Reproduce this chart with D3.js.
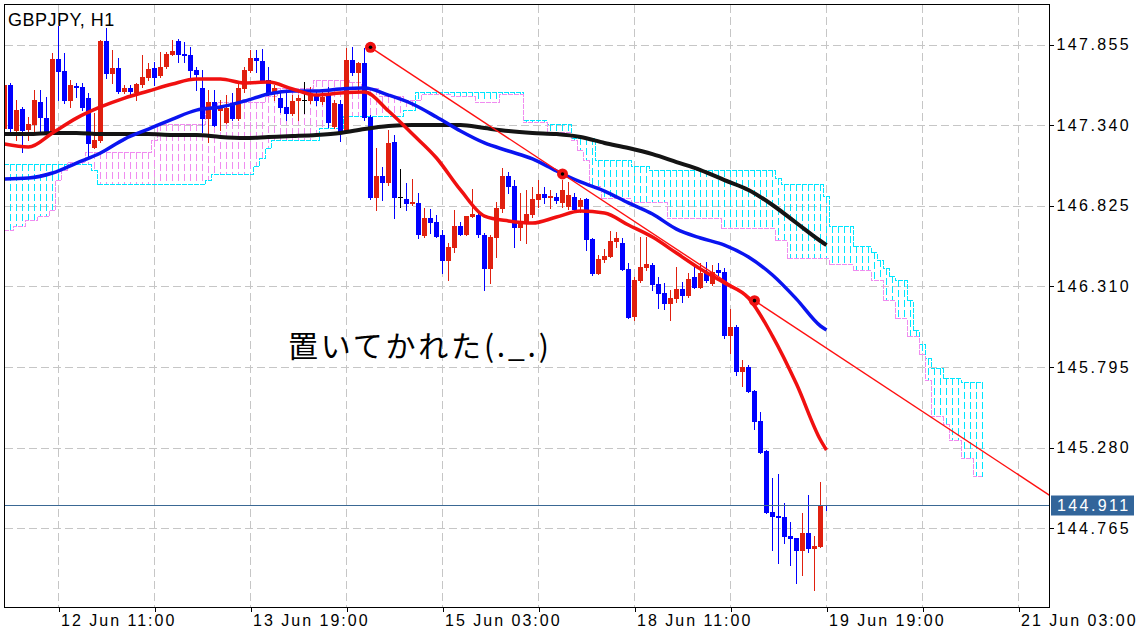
<!DOCTYPE html>
<html><head><meta charset="utf-8">
<script src="https://cdn.jsdelivr.net/npm/d3@7/dist/d3.min.js"></script>
<style>
html,body{margin:0;padding:0;background:#fff;}
svg{display:block;font-family:"Liberation Sans",Arial,sans-serif;}
</style></head><body>
<svg id="chart" width="1136" height="640"></svg>
<script>
// ---------- DATA ----------
const symbolTitle = "GBPJPY, H1";
const annotationText = "置いてかれた(._.)";
const yTicks = [144.765, 145.280, 145.795, 146.310, 146.825, 147.340, 147.855];
const currentPrice = 144.911;
// bar index 0 = 12 Jun 02:00, one bar per hour (H1)
const timeTickBars = [9, 25, 41, 57, 73, 89, 105, 121, 137, 153, 169];
const timeLabelBars = [9, 41, 73, 105, 137, 169];
const timeLabels = ["12 Jun 11:00", "13 Jun 19:00", "15 Jun 03:00", "18 Jun 11:00", "19 Jun 19:00", "21 Jun 03:00"];

const opens = [147.321,147.596,147.309,147.443,147.315,147.347,147.488,147.385,147.296,147.762,
147.686,147.500,147.590,147.583,147.513,147.200,147.245,147.877,147.673,147.705,
147.558,147.577,147.551,147.603,147.647,147.705,147.660,147.718,147.794,147.877,
147.794,147.788,147.692,147.577,147.385,147.488,147.436,147.360,147.481,147.385,
147.577,147.692,147.769,147.750,147.628,147.551,147.513,147.456,147.417,147.500,
147.500,147.500,147.532,147.494,147.532,147.334,147.475,147.302,147.756,147.679,
147.737,147.392,146.881,147.015,146.977,147.232,146.881,146.868,146.843,146.843,
146.638,146.747,146.721,146.638,146.478,146.561,146.696,146.644,146.759,146.766,
146.638,146.427,146.625,146.811,147.015,146.951,146.689,146.715,146.772,146.868,
146.900,146.881,146.881,146.849,146.823,146.881,146.823,146.868,146.613,146.395,
146.485,146.504,146.600,146.587,146.421,146.121,146.351,146.434,146.446,146.325,
146.268,146.204,146.236,146.293,146.255,146.370,146.306,146.395,146.332,146.415,
146.402,145.999,146.050,145.770,145.795,145.642,145.450,145.258,144.869,144.843,
144.837,144.716,144.703,144.626,144.735,144.639,144.652,144.914];
const highs = [147.615,147.609,147.500,147.456,147.392,147.564,147.564,147.520,147.801,147.973,
147.801,147.628,147.609,147.609,147.545,147.417,147.884,147.960,147.820,147.769,
147.596,147.596,147.609,147.788,147.737,147.743,147.807,147.807,147.884,147.890,
147.871,147.839,147.711,147.692,147.564,147.564,147.500,147.532,147.545,147.609,
147.711,147.820,147.820,147.826,147.711,147.596,147.551,147.545,147.532,147.532,
147.615,147.583,147.564,147.551,147.583,147.500,147.500,147.833,147.839,147.743,
147.833,147.404,147.194,147.072,147.309,147.277,147.060,146.970,146.996,146.906,
146.811,146.804,146.766,146.670,146.587,146.798,146.721,146.759,146.932,146.785,
146.651,146.638,146.849,147.066,147.040,146.989,146.906,146.926,146.945,146.989,
146.945,146.926,146.906,146.989,146.977,146.906,146.875,146.875,146.619,146.510,
146.549,146.664,146.657,146.619,146.459,146.370,146.625,146.625,146.459,146.370,
146.332,146.287,146.434,146.338,146.395,146.434,146.459,146.466,146.446,146.459,
146.427,146.166,146.063,145.840,145.808,145.648,145.508,145.265,145.086,145.111,
144.927,144.805,144.703,144.863,144.978,144.716,145.060,144.915];
const lows = [147.309,147.296,147.245,147.168,147.245,147.296,147.296,147.290,147.290,147.500,
147.481,147.456,147.520,147.436,147.136,147.194,147.232,147.641,147.609,147.545,
147.545,147.532,147.500,147.583,147.628,147.596,147.647,147.705,147.788,147.743,
147.743,147.647,147.564,147.296,147.232,147.334,147.309,147.353,147.373,147.373,
147.551,147.679,147.679,147.622,147.532,147.500,147.424,147.373,147.404,147.373,
147.417,147.481,147.468,147.475,147.328,147.321,147.238,147.290,147.660,147.551,
147.373,146.868,146.798,146.862,146.958,146.747,146.817,146.798,146.830,146.619,
146.625,146.651,146.625,146.395,146.351,146.529,146.638,146.638,146.753,146.625,
146.287,146.332,146.498,146.785,146.906,146.561,146.606,146.587,146.753,146.817,
146.843,146.811,146.843,146.817,146.804,146.785,146.785,146.542,146.383,146.389,
146.466,146.498,146.561,146.415,146.108,146.095,146.338,146.415,146.287,146.172,
146.166,146.095,146.210,146.210,146.242,146.300,146.300,146.338,146.319,146.383,
145.980,145.885,145.744,145.674,145.636,145.399,145.246,144.863,144.626,144.543,
144.671,144.531,144.416,144.467,144.613,144.371,144.645,144.880];
const closes = [147.596,147.321,147.436,147.309,147.347,147.500,147.392,147.296,147.762,147.686,
147.500,147.596,147.583,147.456,147.226,147.245,147.877,147.673,147.705,147.558,
147.577,147.558,147.603,147.647,147.698,147.647,147.711,147.794,147.813,147.794,
147.788,147.692,147.666,147.385,147.488,147.341,147.456,147.449,147.385,147.577,
147.692,147.769,147.756,147.628,147.551,147.577,147.456,147.417,147.494,147.513,
147.500,147.532,147.500,147.520,147.360,147.481,147.302,147.756,147.679,147.737,
147.392,146.881,147.015,146.977,147.226,146.881,146.881,146.843,146.849,146.644,
146.747,146.721,146.632,146.478,146.561,146.696,146.644,146.759,146.772,146.644,
146.427,146.625,146.811,147.015,146.951,146.689,146.715,146.772,146.868,146.900,
146.881,146.887,146.862,146.926,146.894,146.804,146.862,146.613,146.395,146.485,
146.504,146.600,146.619,146.421,146.114,146.351,146.434,146.453,146.325,146.268,
146.204,146.236,146.293,146.255,146.357,146.306,146.395,146.351,146.402,146.402,
145.999,146.050,145.770,145.795,145.642,145.450,145.252,144.869,144.843,144.837,
144.716,144.703,144.626,144.735,144.639,144.652,144.914,144.911];

// moving averages, read every 4 bars
const maBars = [0,4,8,12,16,20,24,28,32,36,40,44,48,52,56,60,64,68,72,76,80,84,88,92,96,100,104,108,112,116,120,124,128,132,136,137];
const redMA = [147.219,147.200,147.290,147.385,147.456,147.513,147.558,147.603,147.634,147.634,147.609,147.615,147.571,147.532,147.545,147.551,147.430,147.283,147.130,146.926,146.759,146.728,146.715,146.753,146.791,146.779,146.702,146.625,146.523,146.421,146.332,146.236,145.993,145.686,145.329,145.265];
const blueMA = [146.996,147.002,147.034,147.098,147.162,147.251,147.315,147.379,147.436,147.456,147.494,147.539,147.558,147.558,147.571,147.577,147.532,147.475,147.392,147.302,147.226,147.175,147.124,147.047,146.977,146.919,146.843,146.772,146.676,146.619,146.574,146.498,146.383,146.229,146.057,146.031];
const blackMA = [147.283,147.283,147.290,147.290,147.283,147.283,147.283,147.277,147.277,147.264,147.258,147.264,147.270,147.277,147.290,147.315,147.334,147.341,147.341,147.341,147.321,147.302,147.290,147.283,147.264,147.226,147.194,147.155,147.104,147.053,146.989,146.926,146.830,146.715,146.600,146.574];

// Ichimoku spans (step values: value holds from its start bar)
const cloudBarCount = 164;
const spanAStart = [0,15,16,34,35,42,43,44,45,53,57,67,69,87,91,95,99,105,108,129,130,137,138,142,145,146,147,148,149,151,152,153,154,155,157,160];
const spanAVal = [147.092,147.053,146.964,146.989,147.028,147.085,147.136,147.194,147.251,147.321,147.392,147.436,147.551,147.379,147.353,147.264,147.117,147.085,147.053,147.002,146.970,146.881,146.702,146.574,146.529,146.478,146.427,146.376,146.351,146.223,146.031,145.936,145.853,145.795,145.731,145.699];
const spanBStart = [0,2,4,6,8,9,10,11,14,25,26,34,36,44,46,52,58,60,63,67,70,75,79,83,87,91,95,96,97,98,100,105,108,111,120,129,131,138,142,145,147,149,151,153,154,155,157,158,160,162];
const spanBVal = [146.670,146.702,146.734,146.759,146.804,146.989,147.053,147.104,147.168,147.245,147.347,147.456,147.488,147.532,147.583,147.628,147.615,147.577,147.532,147.500,147.545,147.520,147.488,147.545,147.360,147.296,147.245,147.181,147.117,146.957,146.875,146.849,146.855,146.747,146.689,146.606,146.491,146.453,146.415,146.351,146.223,146.114,145.999,145.872,145.712,145.476,145.425,145.329,145.220,145.105];

// trend line anchors and marked points
const trendBars = [61, 93];
const trendPrices = [147.837, 147.028];
const markerBars = [61, 93, 125];

// ---------- DRAW ----------
const svg = d3.select("#chart");
const plot = {left:4.5, top:4.5, right:1049.5, bottom:607.5};
const x = d3.scaleLinear().domain([0, 174]).range([4, 4 + 174 * 6]);   // 6 px per bar
const y = d3.scaleLinear().domain([144.765, 147.855]).range([528.3, 44.5]);
const col = b => Math.round(x(b));          // pixel column of a bar
const px = b => col(b) + 0.5;
const evenRow = v => 2 * Math.round(y(v) / 2);
const COL_UP = "#e0200f", COL_DN = "#0000ff", COL_DOJI = "#000000";
const CYAN = "#00e6ff", VIOLET = "#f08cf0";

svg.append("rect").attr("width", 1136).attr("height", 640).attr("fill", "#fff");
svg.append("defs").append("clipPath").attr("id", "clip").append("rect")
  .attr("x", plot.left).attr("y", plot.top)
  .attr("width", plot.right - plot.left).attr("height", plot.bottom - plot.top);

// grid
const grid = svg.append("g").attr("stroke", "#c6c6c6").attr("stroke-width", 1)
  .attr("stroke-dasharray", "8,4").attr("shape-rendering", "crispEdges");
yTicks.forEach(v => {
  const yy = Math.round(y(v)) + 0.5;
  grid.append("line").attr("x1", plot.left).attr("x2", plot.right).attr("y1", yy).attr("y2", yy);
});
timeTickBars.forEach(b => {
  grid.append("line").attr("x1", px(b)).attr("x2", px(b)).attr("y1", plot.top).attr("y2", plot.bottom);
});

const g = svg.append("g").attr("clip-path", "url(#clip)");

// Ichimoku cloud: dotted histogram between the spans, plus the span lines
const expand = (starts, vals, n) => {
  const out = []; let k = 0;
  for (let b = 0; b < n; b++) { while (k + 1 < starts.length && starts[k + 1] <= b) k++; out.push(vals[k]); }
  return out;
};
const spanA = expand(spanAStart, spanAVal, cloudBarCount);
const spanB = expand(spanBStart, spanBVal, cloudBarCount);
const cloud = d3.range(cloudBarCount).map(b => ({b, a: spanA[b], s: spanB[b]}));
const DASH = 7, GAP = 3;
const dashes = [];
cloud.forEach(d => {
  const top = evenRow(Math.max(d.a, d.s)), bot = evenRow(Math.min(d.a, d.s));
  const c = d.a >= d.s ? CYAN : VIOLET;
  for (let yy = top; yy <= bot; yy += DASH + GAP) {
    dashes.push({x: col(d.b), y: yy, h: Math.min(DASH, bot - yy + 1), c});
  }
});
const cloudG = g.append("g").attr("shape-rendering", "crispEdges");
cloudG.selectAll("rect").data(dashes).join("rect")
  .attr("x", d => d.x).attr("y", d => d.y).attr("width", 1).attr("height", d => d.h)
  .attr("fill", d => d.c);
const stepLine = d3.line().x(d => x(d.b)).curve(d3.curveStep);
cloudG.append("path").attr("d", stepLine.y(d => evenRow(d.a) + 0.5)(cloud))
  .attr("fill", "none").attr("stroke", CYAN).attr("stroke-width", 1).attr("stroke-dasharray", "5,1");
cloudG.append("path").attr("d", stepLine.y(d => evenRow(d.s) + 0.5)(cloud))
  .attr("fill", "none").attr("stroke", VIOLET).attr("stroke-width", 1).attr("stroke-dasharray", "5,1");

// candles
const candles = g.append("g").attr("shape-rendering", "crispEdges");
opens.forEach((o, b) => {
  const c = closes[b], h = highs[b], l = lows[b];
  const color = c > o ? COL_UP : (c < o ? COL_DN : COL_DOJI);
  candles.append("line").attr("x1", px(b)).attr("x2", px(b))
    .attr("y1", Math.round(y(h))).attr("y2", Math.round(y(l)) + 1)
    .attr("stroke", color).attr("stroke-width", 1);
  const top = Math.round(y(Math.max(o, c))), bot = Math.round(y(Math.min(o, c)));
  candles.append("rect").attr("x", col(b) - 2).attr("width", 5)
    .attr("y", top).attr("height", Math.max(1, bot - top + 1)).attr("fill", color);
});

// moving averages
const maLine = d3.line().x(d => x(d[0]) + 0.5).y(d => y(d[1])).curve(d3.curveMonotoneX);
const drawMA = (vals, color, w) => g.append("path")
  .attr("d", maLine(maBars.map((b, i) => [b, vals[i]])))
  .attr("fill", "none").attr("stroke", color).attr("stroke-width", w)
  .attr("stroke-linejoin", "round");
drawMA(blackMA, "#141414", 4);
drawMA(blueMA, "#0a14f0", 3.5);
drawMA(redMA, "#f01010", 3.5);

// current price line
const yCur = Math.round(y(currentPrice)) + 0.5;
svg.append("line").attr("x1", plot.left).attr("x2", plot.right).attr("y1", yCur).attr("y2", yCur)
  .attr("stroke", "#3a6894").attr("stroke-width", 1);

// trend line (ray to the right)
const slope = (trendPrices[1] - trendPrices[0]) / (trendBars[1] - trendBars[0]);
const trendAt = b => trendPrices[0] + slope * (b - trendBars[0]);
g.append("line").attr("x1", x(trendBars[0]) + 0.5).attr("y1", y(trendPrices[0]))
  .attr("x2", x(180) + 0.5).attr("y2", y(trendAt(180)))
  .attr("stroke", "#ff1010").attr("stroke-width", 1.4);
markerBars.forEach(b => {
  g.append("circle").attr("cx", x(b) + 0.5).attr("cy", y(trendAt(b))).attr("r", 5.5).attr("fill", "#ee1111");
  g.append("circle").attr("cx", x(b) + 0.5).attr("cy", y(trendAt(b))).attr("r", 1.8).attr("fill", "#000");
});

// frame
svg.append("rect").attr("x", plot.left).attr("y", plot.top)
  .attr("width", plot.right - plot.left).attr("height", plot.bottom - plot.top)
  .attr("fill", "none").attr("stroke", "#000").attr("stroke-width", 1).attr("shape-rendering", "crispEdges");

// right price axis
const yAxis = d3.axisRight(y).tickValues(yTicks).tickFormat(d3.format(".3f")).tickSize(4).tickPadding(3);
const ya = svg.append("g").attr("transform", `translate(${plot.right},0)`).call(yAxis);
ya.select(".domain").remove();
ya.selectAll(".tick line").attr("stroke", "#000").attr("shape-rendering", "crispEdges");
ya.selectAll(".tick text").attr("font-size", 16).attr("letter-spacing", "2.4px")
  .attr("fill", "#000").attr("font-family", "Liberation Sans, Arial, sans-serif");

// current price label
svg.append("rect").attr("x", 1051).attr("y", yCur - 10).attr("width", 83).attr("height", 20)
  .attr("fill", "#32659a");
svg.append("text").attr("x", 1057).attr("y", yCur).attr("dy", "0.36em")
  .attr("font-size", 16).attr("letter-spacing", "2.4px").attr("fill", "#fff")
  .text(d3.format(".3f")(currentPrice));

// bottom time axis
const xAxis = d3.axisBottom(x).tickValues(timeTickBars).tickSize(4)
  .tickFormat(b => { const i = timeLabelBars.indexOf(b); return i >= 0 ? timeLabels[i] : ""; });
const xa = svg.append("g").attr("transform", `translate(0.5,${plot.bottom})`).call(xAxis);
xa.select(".domain").remove();
xa.selectAll(".tick line").attr("stroke", "#000").attr("shape-rendering", "crispEdges");
xa.selectAll(".tick text").attr("text-anchor", "start").attr("dx", 2).attr("y", 7)
  .attr("font-size", 16).attr("letter-spacing", "2.0px").attr("fill", "#000")
  .attr("font-family", "Liberation Sans, Arial, sans-serif");

// title
svg.append("text").attr("x", 8).attr("y", 26).attr("font-size", 18).attr("letter-spacing", "0.5px")
  .attr("fill", "#000").text(symbolTitle);

// annotation
svg.append("text").attr("x", 288).attr("y", 357)
  .attr("font-family", "Noto Sans CJK JP, sans-serif").attr("font-size", 30)
  .attr("letter-spacing", "2.8px").attr("fill", "#000").text(annotationText);
</script>
</body></html>
